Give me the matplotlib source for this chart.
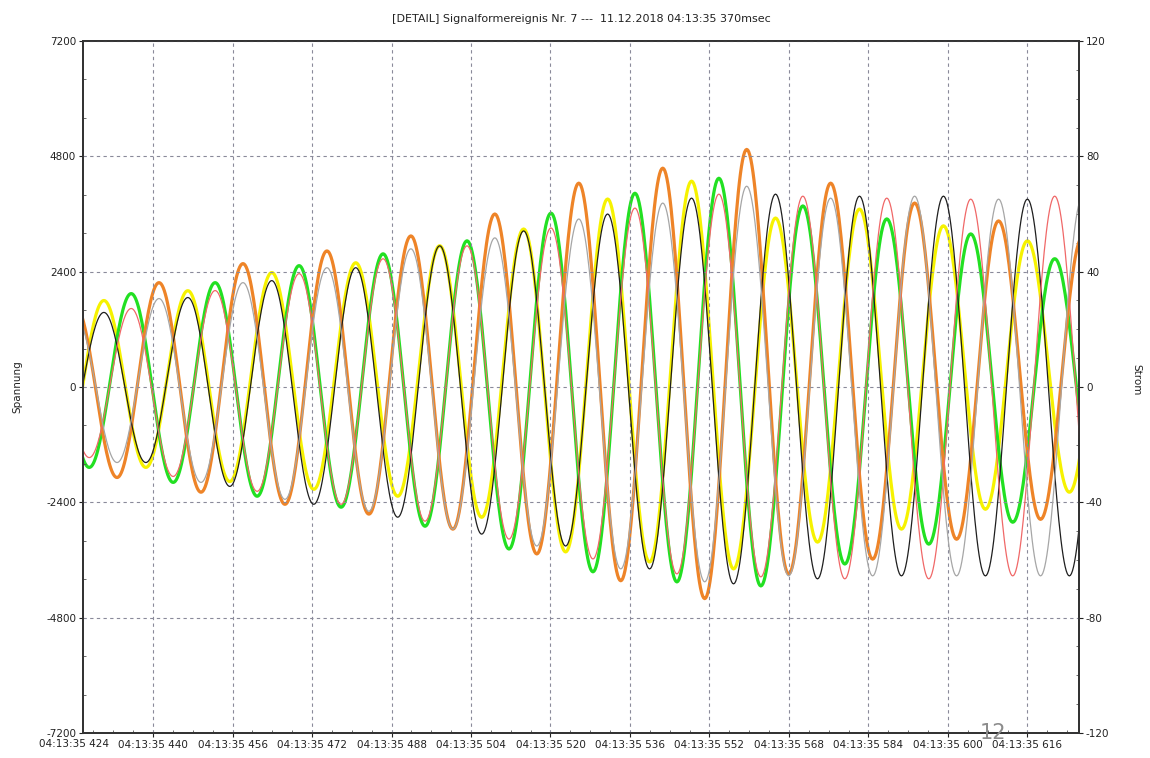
# waveform detail: three voltages (thin) and three currents (thick)

from matplotlib import pyplot as plt
from matplotlib.ticker import MultipleLocator
import numpy as np

plt.rcParams['font.family'] = ['Liberation Sans Narrow', 'DejaVu Sans']

# timing (ms after 04:13:35)
half_period = 8.45
start_a = 421.65   # phase A begins with a trough
start_b = 418.7    # phase B begins with a peak
start_c = 415.85   # phase C begins with a trough

# successive extrema (trough/peak) of every trace
# voltages in V (left axis)
volt_a = [-1400, 1552, -1572, 1862, -2069, 2214, -2441, 2483, -2710, 2938, -3062, 3248, -3310,
          3600, -3786, 3931, -4097, 4014, -3993, 3972, -3931, 3972, -3931, 3910, -3931, 3900]
volt_b = [1450, -1469, 1634, -1862, 2007, -2172, 2359, -2441, 2669, -2793, 2938, -3166, 3310,
          -3579, 3724, -3890, 4014, -3952, 3972, -3993, 3931, -3993, 3910, -3931, 3972, -3950]
volt_c = [-1300, 1500, -1572, 1841, -1986, 2172, -2338, 2483, -2586, 2876, -2959, 3104, -3310,
          3497, -3786, 3828, -4055, 4179, -3931, 3931, -3931, 3972, -3931, 3910, -3931, 3950]
# currents in A (right axis)
curr_a = [-28, 30.0, -27.9, 33.4, -32.8, 39.7, -35.5, 43.1, -37.9, 49.0, -45.2, 54.8, -57.2,
          65.2, -60.7, 71.4, -63.1, 58.6, -53.8, 61.7, -49.3, 55.9, -42.4, 50.7, -36.5, 48]
curr_b = [30, -27.9, 32.4, -33.1, 36.2, -37.9, 42.1, -41.7, 46.2, -48.3, 50.7, -56.2, 60.3,
          -64.1, 67.2, -67.6, 72.4, -69.0, 62.8, -61.4, 58.3, -54.5, 53.1, -46.9, 44.5, -40]
curr_c = [-28, 28.3, -31.4, 36.2, -36.5, 42.8, -40.7, 47.2, -44.1, 52.4, -49.3, 60.0, -57.9,
          70.7, -67.2, 75.9, -73.4, 82.4, -64.8, 70.7, -59.7, 63.8, -52.8, 57.6, -45.9, 52]

x_ticks = [424, 440, 456, 472, 488, 504, 520, 536, 552, 568, 584, 600, 616]
v_ticks = [7200, 4800, 2400, 0, -2400, -4800, -7200]
i_ticks = [120, 80, 40, 0, -40, -80, -120]
t_min, t_max = 425.9, 626.4


def wave(start, extrema):
    # half-cosine between the read extrema
    t_all, y_all = [], []
    for k in range(len(extrema) - 1):
        t = np.linspace(0, half_period, 40, endpoint=False)
        a, b = extrema[k], extrema[k + 1]
        t_all.append(start + k * half_period + t)
        y_all.append((a + b) / 2 + (a - b) / 2 * np.cos(np.pi * t / half_period))
    return np.concatenate(t_all), np.concatenate(y_all)


fig = plt.figure(figsize=(11.5, 7.58), dpi=100)
ax = fig.add_axes([0.0722, 0.033, 0.8661, 0.9129])
ax2 = ax.twinx()
ax2.set_zorder(ax.get_zorder() - 1)
ax.patch.set_visible(False)

# currents (thick) underneath
for start, ext, col in [(start_a, curr_a, '#f6f200'), (start_b, curr_b, '#22e022'),
                        (start_c, curr_c, '#ee8428')]:
    t, y = wave(start, ext)
    ax2.plot(t, y, color=col, lw=2.3, solid_capstyle='round')

# voltages (thin) on top
for start, ext, col in [(start_a, volt_a, '#1e1e1e'), (start_b, volt_b, '#f06868'),
                        (start_c, volt_c, '#a6a6a6')]:
    t, y = wave(start, ext)
    ax.plot(t, y, color=col, lw=0.9)

ax.set_xlim(t_min, t_max)
ax.set_ylim(-7200, 7200)
ax2.set_ylim(-120, 120)

ax.set_xticks(x_ticks[1:])
ax.set_xticklabels(['04:13:35 %d' % x for x in x_ticks[1:]])
ax.text(x_ticks[0], -0.008, '04:13:35 %d' % x_ticks[0], transform=ax.get_xaxis_transform(),
        ha='center', va='top', fontsize=7.5, color='#222222', clip_on=False)
ax.set_yticks(v_ticks)
ax.set_yticklabels([str(v) for v in v_ticks])
ax2.set_yticks(i_ticks)
ax2.set_yticklabels([str(v) for v in i_ticks])
ax.xaxis.set_minor_locator(MultipleLocator(4))
ax.yaxis.set_minor_locator(MultipleLocator(800))
ax2.yaxis.set_minor_locator(MultipleLocator(10))

for a in (ax, ax2):
    a.tick_params(which='major', direction='out', length=3, width=0.8, labelsize=7.5,
                  colors='#222222', pad=2)
    a.tick_params(which='minor', direction='in', length=2, width=0.6, colors='#555555')
    for s in a.spines.values():
        s.set_color('#333333')
        s.set_linewidth(1.3)

ax.grid(True, which='major', linestyle=(0, (3, 3)), color='#8a8a9a', linewidth=0.8)

ax.set_ylabel('Spannung', fontsize=7.5, color='#222222')
ax.yaxis.set_label_coords(-0.061, 0.5)
ax2.set_ylabel('Strom', fontsize=7.5, color='#222222', rotation=270, va='center')
ax2.yaxis.set_label_coords(1.058, 0.51)
ax.set_title('[DETAIL] Signalformereignis Nr. 7 ---  11.12.2018 04:13:35 370msec',
             fontsize=8, color='#222222', pad=14)

fig.text(993 / 1150, 1 - 733 / 758, '12', fontsize=15, color='#8c8c8c',
         ha='center', va='center')

plt.savefig('out.png', dpi=100)
